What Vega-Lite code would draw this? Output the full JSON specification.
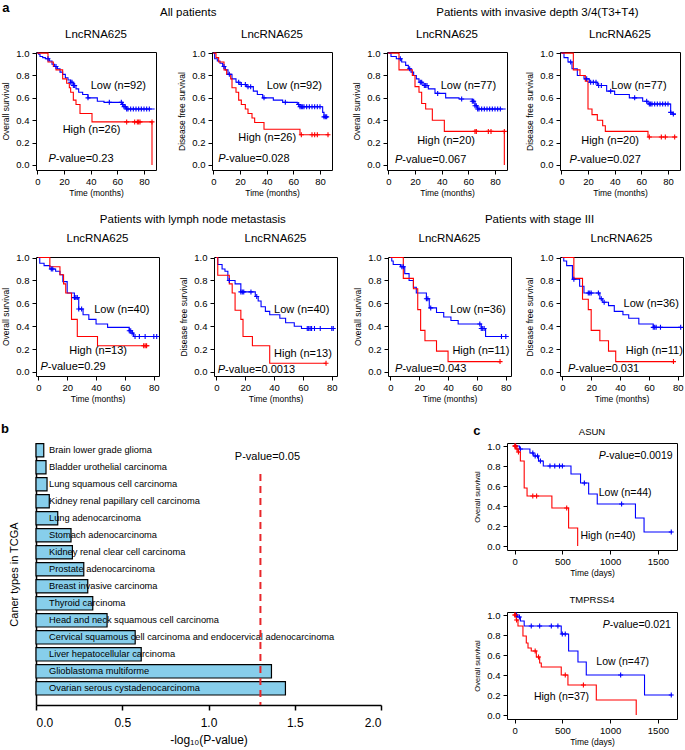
{
"$schema":"https://vega.github.io/schema/vega-lite/v6.json",
"padding":{"left":1,"top":1,"right":1,"bottom":1},
"config":{
 "font":"Liberation Sans",
 "view":{"stroke":"black","strokeWidth":1},
 "range":{"category":["#ff0000","#0000ff"]},
 "axis":{"grid":false,"domain":false,"tickColor":"black","labelColor":"black","titleColor":"black","titleFontWeight":"normal","tickSize":4,"labelFontSize":9.5,"titleFontSize":8.5},
 "axisX":{"labelPadding":2,"titlePadding":3},
 "axisY":{"labelPadding":3,"titlePadding":5},
 "title":{"fontWeight":"normal","fontSize":11.5,"color":"black","frame":"group","offset":8,"anchor":"middle"},
 "legend":{"disable":true}
},
"datasets":{
"km":[
{"p":"A1","g":"Low","t":0,"s":1,"c":0},{"p":"A1","g":"Low","t":1,"s":0.99,"c":0},{"p":"A1","g":"Low","t":2,"s":0.97,"c":0},{"p":"A1","g":"Low","t":4,"s":0.96,"c":0},{"p":"A1","g":"Low","t":6,"s":0.95,"c":0},{"p":"A1","g":"Low","t":9,"s":0.93,"c":0},{"p":"A1","g":"Low","t":11,"s":0.9,"c":0},{"p":"A1","g":"Low","t":13,"s":0.88,"c":0},{"p":"A1","g":"Low","t":15,"s":0.86,"c":0},{"p":"A1","g":"Low","t":17,"s":0.83,"c":0},{"p":"A1","g":"Low","t":19,"s":0.81,"c":0},{"p":"A1","g":"Low","t":21,"s":0.78,"c":0},{"p":"A1","g":"Low","t":23,"s":0.76,"c":0},{"p":"A1","g":"Low","t":25,"s":0.74,"c":0},{"p":"A1","g":"Low","t":27,"s":0.71,"c":0},{"p":"A1","g":"Low","t":29,"s":0.68,"c":0},{"p":"A1","g":"Low","t":31,"s":0.65,"c":0},{"p":"A1","g":"Low","t":34,"s":0.63,"c":0},{"p":"A1","g":"Low","t":38,"s":0.6,"c":0},{"p":"A1","g":"Low","t":45,"s":0.57,"c":0},{"p":"A1","g":"Low","t":50,"s":0.56,"c":0},{"p":"A1","g":"Low","t":64,"s":0.54,"c":0},{"p":"A1","g":"Low","t":65,"s":0.52,"c":0},{"p":"A1","g":"Low","t":67,"s":0.5,"c":0},{"p":"A1","g":"Low","t":88,"s":0.5,"c":0},
{"p":"A1","g":"Low","t":8,"s":0.95,"c":1},{"p":"A1","g":"Low","t":14,"s":0.88,"c":1},{"p":"A1","g":"Low","t":25,"s":0.74,"c":1},{"p":"A1","g":"Low","t":26,"s":0.74,"c":1},{"p":"A1","g":"Low","t":27,"s":0.71,"c":1},{"p":"A1","g":"Low","t":28,"s":0.71,"c":1},{"p":"A1","g":"Low","t":38,"s":0.6,"c":1},{"p":"A1","g":"Low","t":54,"s":0.56,"c":1},{"p":"A1","g":"Low","t":63,"s":0.56,"c":1},{"p":"A1","g":"Low","t":64,"s":0.54,"c":1},{"p":"A1","g":"Low","t":65,"s":0.52,"c":1},{"p":"A1","g":"Low","t":66,"s":0.52,"c":1},{"p":"A1","g":"Low","t":67,"s":0.5,"c":1},{"p":"A1","g":"Low","t":68,"s":0.5,"c":1},{"p":"A1","g":"Low","t":70,"s":0.5,"c":1},{"p":"A1","g":"Low","t":72,"s":0.5,"c":1},{"p":"A1","g":"Low","t":74,"s":0.5,"c":1},{"p":"A1","g":"Low","t":76,"s":0.5,"c":1},{"p":"A1","g":"Low","t":78,"s":0.5,"c":1},{"p":"A1","g":"Low","t":80,"s":0.5,"c":1},{"p":"A1","g":"Low","t":82,"s":0.5,"c":1},{"p":"A1","g":"Low","t":84,"s":0.5,"c":1},
{"p":"A1","g":"High","t":0,"s":1,"c":0},{"p":"A1","g":"High","t":8,"s":0.92,"c":0},{"p":"A1","g":"High","t":12,"s":0.88,"c":0},{"p":"A1","g":"High","t":14,"s":0.85,"c":0},{"p":"A1","g":"High","t":19,"s":0.77,"c":0},{"p":"A1","g":"High","t":22,"s":0.73,"c":0},{"p":"A1","g":"High","t":24,"s":0.69,"c":0},{"p":"A1","g":"High","t":25,"s":0.65,"c":0},{"p":"A1","g":"High","t":27,"s":0.58,"c":0},{"p":"A1","g":"High","t":29,"s":0.54,"c":0},{"p":"A1","g":"High","t":32,"s":0.46,"c":0},{"p":"A1","g":"High","t":41,"s":0.385,"c":0},{"p":"A1","g":"High","t":86,"s":0,"c":0},
{"p":"A1","g":"High","t":67,"s":0.385,"c":1},{"p":"A1","g":"High","t":73,"s":0.385,"c":1},{"p":"A1","g":"High","t":75,"s":0.385,"c":1},{"p":"A1","g":"High","t":76,"s":0.385,"c":1},{"p":"A1","g":"High","t":77,"s":0.385,"c":1},{"p":"A1","g":"High","t":86,"s":0.385,"c":1},

{"p":"A2","g":"Low","t":0,"s":1,"c":0},{"p":"A2","g":"Low","t":1,"s":0.95,"c":0},{"p":"A2","g":"Low","t":3,"s":0.93,"c":0},{"p":"A2","g":"Low","t":5,"s":0.91,"c":0},{"p":"A2","g":"Low","t":7,"s":0.88,"c":0},{"p":"A2","g":"Low","t":9,"s":0.85,"c":0},{"p":"A2","g":"Low","t":11,"s":0.81,"c":0},{"p":"A2","g":"Low","t":14,"s":0.77,"c":0},{"p":"A2","g":"Low","t":17,"s":0.74,"c":0},{"p":"A2","g":"Low","t":20,"s":0.72,"c":0},{"p":"A2","g":"Low","t":25,"s":0.7,"c":0},{"p":"A2","g":"Low","t":30,"s":0.66,"c":0},{"p":"A2","g":"Low","t":33,"s":0.63,"c":0},{"p":"A2","g":"Low","t":37,"s":0.6,"c":0},{"p":"A2","g":"Low","t":45,"s":0.58,"c":0},{"p":"A2","g":"Low","t":52,"s":0.56,"c":0},{"p":"A2","g":"Low","t":63,"s":0.54,"c":0},{"p":"A2","g":"Low","t":65,"s":0.52,"c":0},{"p":"A2","g":"Low","t":82,"s":0.47,"c":0},{"p":"A2","g":"Low","t":83,"s":0.43,"c":0},{"p":"A2","g":"Low","t":86,"s":0.43,"c":0},
{"p":"A2","g":"Low","t":8,"s":0.88,"c":1},{"p":"A2","g":"Low","t":12,"s":0.81,"c":1},{"p":"A2","g":"Low","t":19,"s":0.74,"c":1},{"p":"A2","g":"Low","t":21,"s":0.72,"c":1},{"p":"A2","g":"Low","t":24,"s":0.72,"c":1},{"p":"A2","g":"Low","t":26,"s":0.7,"c":1},{"p":"A2","g":"Low","t":28,"s":0.7,"c":1},{"p":"A2","g":"Low","t":38,"s":0.6,"c":1},{"p":"A2","g":"Low","t":54,"s":0.56,"c":1},{"p":"A2","g":"Low","t":64,"s":0.54,"c":1},{"p":"A2","g":"Low","t":65,"s":0.52,"c":1},{"p":"A2","g":"Low","t":66,"s":0.52,"c":1},{"p":"A2","g":"Low","t":67,"s":0.52,"c":1},{"p":"A2","g":"Low","t":68,"s":0.52,"c":1},{"p":"A2","g":"Low","t":70,"s":0.52,"c":1},{"p":"A2","g":"Low","t":72,"s":0.52,"c":1},{"p":"A2","g":"Low","t":74,"s":0.52,"c":1},{"p":"A2","g":"Low","t":76,"s":0.52,"c":1},{"p":"A2","g":"Low","t":78,"s":0.52,"c":1},{"p":"A2","g":"Low","t":80,"s":0.52,"c":1},{"p":"A2","g":"Low","t":83,"s":0.43,"c":1},{"p":"A2","g":"Low","t":84,"s":0.43,"c":1},{"p":"A2","g":"Low","t":85,"s":0.43,"c":1},
{"p":"A2","g":"High","t":0,"s":1,"c":0},{"p":"A2","g":"High","t":2,"s":0.96,"c":0},{"p":"A2","g":"High","t":4,"s":0.92,"c":0},{"p":"A2","g":"High","t":8,"s":0.85,"c":0},{"p":"A2","g":"High","t":10,"s":0.81,"c":0},{"p":"A2","g":"High","t":13,"s":0.77,"c":0},{"p":"A2","g":"High","t":14,"s":0.69,"c":0},{"p":"A2","g":"High","t":17,"s":0.65,"c":0},{"p":"A2","g":"High","t":19,"s":0.58,"c":0},{"p":"A2","g":"High","t":21,"s":0.54,"c":0},{"p":"A2","g":"High","t":24,"s":0.5,"c":0},{"p":"A2","g":"High","t":26,"s":0.46,"c":0},{"p":"A2","g":"High","t":29,"s":0.42,"c":0},{"p":"A2","g":"High","t":31,"s":0.38,"c":0},{"p":"A2","g":"High","t":38,"s":0.32,"c":0},{"p":"A2","g":"High","t":65,"s":0.27,"c":0},{"p":"A2","g":"High","t":87,"s":0.27,"c":0},
{"p":"A2","g":"High","t":66,"s":0.27,"c":1},{"p":"A2","g":"High","t":74,"s":0.27,"c":1},{"p":"A2","g":"High","t":76,"s":0.27,"c":1},{"p":"A2","g":"High","t":78,"s":0.27,"c":1},{"p":"A2","g":"High","t":86,"s":0.27,"c":1},

{"p":"A3","g":"Low","t":0,"s":1,"c":0},{"p":"A3","g":"Low","t":2,"s":0.97,"c":0},{"p":"A3","g":"Low","t":6,"s":0.95,"c":0},{"p":"A3","g":"Low","t":10,"s":0.92,"c":0},{"p":"A3","g":"Low","t":13,"s":0.89,"c":0},{"p":"A3","g":"Low","t":15,"s":0.86,"c":0},{"p":"A3","g":"Low","t":17,"s":0.83,"c":0},{"p":"A3","g":"Low","t":19,"s":0.8,"c":0},{"p":"A3","g":"Low","t":21,"s":0.77,"c":0},{"p":"A3","g":"Low","t":23,"s":0.74,"c":0},{"p":"A3","g":"Low","t":26,"s":0.71,"c":0},{"p":"A3","g":"Low","t":30,"s":0.68,"c":0},{"p":"A3","g":"Low","t":35,"s":0.64,"c":0},{"p":"A3","g":"Low","t":43,"s":0.6,"c":0},{"p":"A3","g":"Low","t":53,"s":0.59,"c":0},{"p":"A3","g":"Low","t":63,"s":0.57,"c":0},{"p":"A3","g":"Low","t":65,"s":0.53,"c":0},{"p":"A3","g":"Low","t":67,"s":0.5,"c":0},{"p":"A3","g":"Low","t":88,"s":0.5,"c":0},
{"p":"A3","g":"Low","t":9,"s":0.95,"c":1},{"p":"A3","g":"Low","t":16,"s":0.86,"c":1},{"p":"A3","g":"Low","t":24,"s":0.74,"c":1},{"p":"A3","g":"Low","t":25,"s":0.74,"c":1},{"p":"A3","g":"Low","t":27,"s":0.71,"c":1},{"p":"A3","g":"Low","t":28,"s":0.71,"c":1},{"p":"A3","g":"Low","t":29,"s":0.71,"c":1},{"p":"A3","g":"Low","t":37,"s":0.64,"c":1},{"p":"A3","g":"Low","t":55,"s":0.59,"c":1},{"p":"A3","g":"Low","t":63,"s":0.57,"c":1},{"p":"A3","g":"Low","t":64,"s":0.57,"c":1},{"p":"A3","g":"Low","t":65,"s":0.53,"c":1},{"p":"A3","g":"Low","t":66,"s":0.53,"c":1},{"p":"A3","g":"Low","t":67,"s":0.5,"c":1},{"p":"A3","g":"Low","t":68,"s":0.5,"c":1},{"p":"A3","g":"Low","t":70,"s":0.5,"c":1},{"p":"A3","g":"Low","t":72,"s":0.5,"c":1},{"p":"A3","g":"Low","t":74,"s":0.5,"c":1},{"p":"A3","g":"Low","t":76,"s":0.5,"c":1},{"p":"A3","g":"Low","t":78,"s":0.5,"c":1},{"p":"A3","g":"Low","t":80,"s":0.5,"c":1},{"p":"A3","g":"Low","t":82,"s":0.5,"c":1},{"p":"A3","g":"Low","t":84,"s":0.5,"c":1},
{"p":"A3","g":"High","t":0,"s":1,"c":0},{"p":"A3","g":"High","t":8,"s":0.85,"c":0},{"p":"A3","g":"High","t":18,"s":0.8,"c":0},{"p":"A3","g":"High","t":20,"s":0.7,"c":0},{"p":"A3","g":"High","t":23,"s":0.65,"c":0},{"p":"A3","g":"High","t":25,"s":0.55,"c":0},{"p":"A3","g":"High","t":28,"s":0.5,"c":0},{"p":"A3","g":"High","t":33,"s":0.4,"c":0},{"p":"A3","g":"High","t":42,"s":0.3,"c":0},{"p":"A3","g":"High","t":87,"s":0,"c":0},
{"p":"A3","g":"High","t":65,"s":0.3,"c":1},{"p":"A3","g":"High","t":66,"s":0.3,"c":1},{"p":"A3","g":"High","t":75,"s":0.3,"c":1},{"p":"A3","g":"High","t":77,"s":0.3,"c":1},{"p":"A3","g":"High","t":87,"s":0.3,"c":1},

{"p":"A4","g":"Low","t":0,"s":1,"c":0},{"p":"A4","g":"Low","t":2,"s":0.96,"c":0},{"p":"A4","g":"Low","t":5,"s":0.92,"c":0},{"p":"A4","g":"Low","t":8,"s":0.86,"c":0},{"p":"A4","g":"Low","t":12,"s":0.8,"c":0},{"p":"A4","g":"Low","t":17,"s":0.77,"c":0},{"p":"A4","g":"Low","t":21,"s":0.74,"c":0},{"p":"A4","g":"Low","t":27,"s":0.71,"c":0},{"p":"A4","g":"Low","t":34,"s":0.66,"c":0},{"p":"A4","g":"Low","t":40,"s":0.63,"c":0},{"p":"A4","g":"Low","t":51,"s":0.6,"c":0},{"p":"A4","g":"Low","t":61,"s":0.57,"c":0},{"p":"A4","g":"Low","t":65,"s":0.545,"c":0},{"p":"A4","g":"Low","t":82,"s":0.47,"c":0},{"p":"A4","g":"Low","t":83,"s":0.455,"c":0},{"p":"A4","g":"Low","t":86,"s":0.455,"c":0},
{"p":"A4","g":"Low","t":7,"s":0.92,"c":1},{"p":"A4","g":"Low","t":19,"s":0.77,"c":1},{"p":"A4","g":"Low","t":22,"s":0.74,"c":1},{"p":"A4","g":"Low","t":24,"s":0.74,"c":1},{"p":"A4","g":"Low","t":26,"s":0.74,"c":1},{"p":"A4","g":"Low","t":28,"s":0.71,"c":1},{"p":"A4","g":"Low","t":30,"s":0.71,"c":1},{"p":"A4","g":"Low","t":37,"s":0.66,"c":1},{"p":"A4","g":"Low","t":55,"s":0.6,"c":1},{"p":"A4","g":"Low","t":64,"s":0.57,"c":1},{"p":"A4","g":"Low","t":66,"s":0.545,"c":1},{"p":"A4","g":"Low","t":67,"s":0.545,"c":1},{"p":"A4","g":"Low","t":68,"s":0.545,"c":1},{"p":"A4","g":"Low","t":70,"s":0.545,"c":1},{"p":"A4","g":"Low","t":72,"s":0.545,"c":1},{"p":"A4","g":"Low","t":74,"s":0.545,"c":1},{"p":"A4","g":"Low","t":76,"s":0.545,"c":1},{"p":"A4","g":"Low","t":78,"s":0.545,"c":1},{"p":"A4","g":"Low","t":80,"s":0.545,"c":1},{"p":"A4","g":"Low","t":82,"s":0.47,"c":1},{"p":"A4","g":"Low","t":84,"s":0.455,"c":1},
{"p":"A4","g":"High","t":0,"s":1,"c":0},{"p":"A4","g":"High","t":9,"s":0.85,"c":0},{"p":"A4","g":"High","t":14,"s":0.8,"c":0},{"p":"A4","g":"High","t":18,"s":0.75,"c":0},{"p":"A4","g":"High","t":20,"s":0.5,"c":0},{"p":"A4","g":"High","t":23,"s":0.45,"c":0},{"p":"A4","g":"High","t":27,"s":0.4,"c":0},{"p":"A4","g":"High","t":31,"s":0.35,"c":0},{"p":"A4","g":"High","t":33,"s":0.3,"c":0},{"p":"A4","g":"High","t":65,"s":0.25,"c":0},{"p":"A4","g":"High","t":87,"s":0.25,"c":0},
{"p":"A4","g":"High","t":66,"s":0.25,"c":1},{"p":"A4","g":"High","t":75,"s":0.25,"c":1},{"p":"A4","g":"High","t":78,"s":0.25,"c":1},{"p":"A4","g":"High","t":85,"s":0.25,"c":1},

{"p":"B1","g":"Low","t":0,"s":1,"c":0},{"p":"B1","g":"Low","t":1,"s":0.95,"c":0},{"p":"B1","g":"Low","t":4,"s":0.93,"c":0},{"p":"B1","g":"Low","t":8,"s":0.9,"c":0},{"p":"B1","g":"Low","t":12,"s":0.88,"c":0},{"p":"B1","g":"Low","t":15,"s":0.85,"c":0},{"p":"B1","g":"Low","t":17,"s":0.79,"c":0},{"p":"B1","g":"Low","t":20,"s":0.69,"c":0},{"p":"B1","g":"Low","t":25,"s":0.65,"c":0},{"p":"B1","g":"Low","t":28,"s":0.55,"c":0},{"p":"B1","g":"Low","t":31,"s":0.5,"c":0},{"p":"B1","g":"Low","t":35,"s":0.46,"c":0},{"p":"B1","g":"Low","t":40,"s":0.42,"c":0},{"p":"B1","g":"Low","t":48,"s":0.39,"c":0},{"p":"B1","g":"Low","t":63,"s":0.36,"c":0},{"p":"B1","g":"Low","t":65,"s":0.34,"c":0},{"p":"B1","g":"Low","t":66,"s":0.31,"c":0},{"p":"B1","g":"Low","t":83,"s":0.31,"c":0},
{"p":"B1","g":"Low","t":9,"s":0.9,"c":1},{"p":"B1","g":"Low","t":10,"s":0.9,"c":1},{"p":"B1","g":"Low","t":25,"s":0.65,"c":1},{"p":"B1","g":"Low","t":26,"s":0.65,"c":1},{"p":"B1","g":"Low","t":27,"s":0.65,"c":1},{"p":"B1","g":"Low","t":28,"s":0.55,"c":1},{"p":"B1","g":"Low","t":30,"s":0.55,"c":1},{"p":"B1","g":"Low","t":63,"s":0.36,"c":1},{"p":"B1","g":"Low","t":64,"s":0.36,"c":1},{"p":"B1","g":"Low","t":65,"s":0.34,"c":1},{"p":"B1","g":"Low","t":67,"s":0.31,"c":1},{"p":"B1","g":"Low","t":70,"s":0.31,"c":1},{"p":"B1","g":"Low","t":74,"s":0.31,"c":1},{"p":"B1","g":"Low","t":80,"s":0.31,"c":1},{"p":"B1","g":"Low","t":82,"s":0.31,"c":1},
{"p":"B1","g":"High","t":0,"s":1,"c":0},{"p":"B1","g":"High","t":8,"s":0.92,"c":0},{"p":"B1","g":"High","t":15,"s":0.85,"c":0},{"p":"B1","g":"High","t":17.5,"s":0.77,"c":0},{"p":"B1","g":"High","t":19,"s":0.69,"c":0},{"p":"B1","g":"High","t":23,"s":0.46,"c":0},{"p":"B1","g":"High","t":27,"s":0.31,"c":0},{"p":"B1","g":"High","t":41,"s":0.23,"c":0},{"p":"B1","g":"High","t":77,"s":0.23,"c":0},
{"p":"B1","g":"High","t":73,"s":0.23,"c":1},{"p":"B1","g":"High","t":74,"s":0.23,"c":1},{"p":"B1","g":"High","t":75,"s":0.23,"c":1},

{"p":"B2","g":"Low","t":0,"s":1,"c":0},{"p":"B2","g":"Low","t":1,"s":0.94,"c":0},{"p":"B2","g":"Low","t":4,"s":0.9,"c":0},{"p":"B2","g":"Low","t":6,"s":0.88,"c":0},{"p":"B2","g":"Low","t":8,"s":0.8,"c":0},{"p":"B2","g":"Low","t":13,"s":0.77,"c":0},{"p":"B2","g":"Low","t":17,"s":0.7,"c":0},{"p":"B2","g":"Low","t":27,"s":0.66,"c":0},{"p":"B2","g":"Low","t":29,"s":0.62,"c":0},{"p":"B2","g":"Low","t":31,"s":0.57,"c":0},{"p":"B2","g":"Low","t":34,"s":0.53,"c":0},{"p":"B2","g":"Low","t":37,"s":0.5,"c":0},{"p":"B2","g":"Low","t":44,"s":0.47,"c":0},{"p":"B2","g":"Low","t":48,"s":0.43,"c":0},{"p":"B2","g":"Low","t":54,"s":0.4,"c":0},{"p":"B2","g":"Low","t":59,"s":0.38,"c":0},{"p":"B2","g":"Low","t":82,"s":0.38,"c":0},
{"p":"B2","g":"Low","t":9,"s":0.8,"c":1},{"p":"B2","g":"Low","t":17,"s":0.7,"c":1},{"p":"B2","g":"Low","t":18,"s":0.7,"c":1},{"p":"B2","g":"Low","t":19,"s":0.7,"c":1},{"p":"B2","g":"Low","t":24,"s":0.7,"c":1},{"p":"B2","g":"Low","t":28,"s":0.66,"c":1},{"p":"B2","g":"Low","t":63,"s":0.38,"c":1},{"p":"B2","g":"Low","t":64,"s":0.38,"c":1},{"p":"B2","g":"Low","t":65,"s":0.38,"c":1},{"p":"B2","g":"Low","t":66,"s":0.38,"c":1},{"p":"B2","g":"Low","t":68,"s":0.38,"c":1},{"p":"B2","g":"Low","t":72,"s":0.38,"c":1},{"p":"B2","g":"Low","t":80,"s":0.38,"c":1},{"p":"B2","g":"Low","t":81,"s":0.38,"c":1},
{"p":"B2","g":"High","t":0,"s":1,"c":0},{"p":"B2","g":"High","t":1,"s":0.846,"c":0},{"p":"B2","g":"High","t":9,"s":0.77,"c":0},{"p":"B2","g":"High","t":11,"s":0.69,"c":0},{"p":"B2","g":"High","t":13,"s":0.54,"c":0},{"p":"B2","g":"High","t":17,"s":0.46,"c":0},{"p":"B2","g":"High","t":18.5,"s":0.31,"c":0},{"p":"B2","g":"High","t":25,"s":0.23,"c":0},{"p":"B2","g":"High","t":37,"s":0.077,"c":0},{"p":"B2","g":"High","t":76,"s":0.077,"c":0},
{"p":"B2","g":"High","t":76,"s":0.077,"c":1},

{"p":"B3","g":"Low","t":0,"s":1,"c":0},{"p":"B3","g":"Low","t":1,"s":0.97,"c":0},{"p":"B3","g":"Low","t":2,"s":0.94,"c":0},{"p":"B3","g":"Low","t":7,"s":0.92,"c":0},{"p":"B3","g":"Low","t":10,"s":0.86,"c":0},{"p":"B3","g":"Low","t":13,"s":0.8,"c":0},{"p":"B3","g":"Low","t":16,"s":0.74,"c":0},{"p":"B3","g":"Low","t":18,"s":0.69,"c":0},{"p":"B3","g":"Low","t":25,"s":0.64,"c":0},{"p":"B3","g":"Low","t":27,"s":0.56,"c":0},{"p":"B3","g":"Low","t":32,"s":0.52,"c":0},{"p":"B3","g":"Low","t":37,"s":0.48,"c":0},{"p":"B3","g":"Low","t":42,"s":0.45,"c":0},{"p":"B3","g":"Low","t":47,"s":0.42,"c":0},{"p":"B3","g":"Low","t":63,"s":0.38,"c":0},{"p":"B3","g":"Low","t":66,"s":0.31,"c":0},{"p":"B3","g":"Low","t":82,"s":0.31,"c":0},
{"p":"B3","g":"Low","t":8,"s":0.92,"c":1},{"p":"B3","g":"Low","t":9,"s":0.92,"c":1},{"p":"B3","g":"Low","t":25,"s":0.64,"c":1},{"p":"B3","g":"Low","t":26,"s":0.64,"c":1},{"p":"B3","g":"Low","t":28,"s":0.56,"c":1},{"p":"B3","g":"Low","t":62,"s":0.42,"c":1},{"p":"B3","g":"Low","t":63,"s":0.38,"c":1},{"p":"B3","g":"Low","t":64,"s":0.38,"c":1},{"p":"B3","g":"Low","t":65,"s":0.38,"c":1},{"p":"B3","g":"Low","t":77,"s":0.31,"c":1},{"p":"B3","g":"Low","t":80,"s":0.31,"c":1},
{"p":"B3","g":"High","t":0,"s":1,"c":0},{"p":"B3","g":"High","t":9,"s":0.818,"c":0},{"p":"B3","g":"High","t":16,"s":0.727,"c":0},{"p":"B3","g":"High","t":19,"s":0.545,"c":0},{"p":"B3","g":"High","t":21,"s":0.364,"c":0},{"p":"B3","g":"High","t":24,"s":0.273,"c":0},{"p":"B3","g":"High","t":32,"s":0.182,"c":0},{"p":"B3","g":"High","t":40,"s":0.091,"c":0},{"p":"B3","g":"High","t":76,"s":0.091,"c":0},
{"p":"B3","g":"High","t":76,"s":0.091,"c":1},

{"p":"B4","g":"Low","t":0,"s":1,"c":0},{"p":"B4","g":"Low","t":1,"s":0.97,"c":0},{"p":"B4","g":"Low","t":3,"s":0.93,"c":0},{"p":"B4","g":"Low","t":7,"s":0.81,"c":0},{"p":"B4","g":"Low","t":12,"s":0.75,"c":0},{"p":"B4","g":"Low","t":15,"s":0.69,"c":0},{"p":"B4","g":"Low","t":26,"s":0.64,"c":0},{"p":"B4","g":"Low","t":28,"s":0.61,"c":0},{"p":"B4","g":"Low","t":32,"s":0.58,"c":0},{"p":"B4","g":"Low","t":36,"s":0.53,"c":0},{"p":"B4","g":"Low","t":42,"s":0.5,"c":0},{"p":"B4","g":"Low","t":46,"s":0.47,"c":0},{"p":"B4","g":"Low","t":53,"s":0.42,"c":0},{"p":"B4","g":"Low","t":63,"s":0.39,"c":0},{"p":"B4","g":"Low","t":82,"s":0.39,"c":0},
{"p":"B4","g":"Low","t":8,"s":0.81,"c":1},{"p":"B4","g":"Low","t":18,"s":0.69,"c":1},{"p":"B4","g":"Low","t":19,"s":0.69,"c":1},{"p":"B4","g":"Low","t":20,"s":0.69,"c":1},{"p":"B4","g":"Low","t":25,"s":0.69,"c":1},{"p":"B4","g":"Low","t":27,"s":0.64,"c":1},{"p":"B4","g":"Low","t":29,"s":0.61,"c":1},{"p":"B4","g":"Low","t":63,"s":0.39,"c":1},{"p":"B4","g":"Low","t":64,"s":0.39,"c":1},{"p":"B4","g":"Low","t":65,"s":0.39,"c":1},{"p":"B4","g":"Low","t":68,"s":0.39,"c":1},{"p":"B4","g":"Low","t":82,"s":0.39,"c":1},
{"p":"B4","g":"High","t":0,"s":1,"c":0},{"p":"B4","g":"High","t":8,"s":0.818,"c":0},{"p":"B4","g":"High","t":14,"s":0.636,"c":0},{"p":"B4","g":"High","t":18,"s":0.545,"c":0},{"p":"B4","g":"High","t":20,"s":0.364,"c":0},{"p":"B4","g":"High","t":26,"s":0.273,"c":0},{"p":"B4","g":"High","t":32,"s":0.182,"c":0},{"p":"B4","g":"High","t":37,"s":0.091,"c":0},{"p":"B4","g":"High","t":77,"s":0.091,"c":0},
{"p":"B4","g":"High","t":77,"s":0.091,"c":1},

{"p":"C1","g":"Low","t":0,"s":1,"c":0},{"p":"C1","g":"Low","t":50,"s":0.97,"c":0},{"p":"C1","g":"Low","t":160,"s":0.93,"c":0},{"p":"C1","g":"Low","t":200,"s":0.9,"c":0},{"p":"C1","g":"Low","t":250,"s":0.85,"c":0},{"p":"C1","g":"Low","t":300,"s":0.8,"c":0},{"p":"C1","g":"Low","t":590,"s":0.72,"c":0},{"p":"C1","g":"Low","t":690,"s":0.63,"c":0},{"p":"C1","g":"Low","t":775,"s":0.52,"c":0},{"p":"C1","g":"Low","t":865,"s":0.42,"c":0},{"p":"C1","g":"Low","t":1265,"s":0.28,"c":0},{"p":"C1","g":"Low","t":1355,"s":0.14,"c":0},{"p":"C1","g":"Low","t":1650,"s":0.14,"c":0},
{"p":"C1","g":"Low","t":10,"s":1,"c":1},{"p":"C1","g":"Low","t":60,"s":0.97,"c":1},{"p":"C1","g":"Low","t":190,"s":0.93,"c":1},{"p":"C1","g":"Low","t":215,"s":0.9,"c":1},{"p":"C1","g":"Low","t":240,"s":0.9,"c":1},{"p":"C1","g":"Low","t":270,"s":0.85,"c":1},{"p":"C1","g":"Low","t":370,"s":0.8,"c":1},{"p":"C1","g":"Low","t":420,"s":0.8,"c":1},{"p":"C1","g":"Low","t":470,"s":0.8,"c":1},{"p":"C1","g":"Low","t":500,"s":0.8,"c":1},{"p":"C1","g":"Low","t":730,"s":0.63,"c":1},{"p":"C1","g":"Low","t":1120,"s":0.42,"c":1},{"p":"C1","g":"Low","t":1640,"s":0.14,"c":1},
{"p":"C1","g":"High","t":0,"s":1,"c":0},{"p":"C1","g":"High","t":15,"s":0.97,"c":0},{"p":"C1","g":"High","t":35,"s":0.94,"c":0},{"p":"C1","g":"High","t":60,"s":0.85,"c":0},{"p":"C1","g":"High","t":100,"s":0.58,"c":0},{"p":"C1","g":"High","t":130,"s":0.5,"c":0},{"p":"C1","g":"High","t":390,"s":0.38,"c":0},{"p":"C1","g":"High","t":565,"s":0.18,"c":0},{"p":"C1","g":"High","t":660,"s":0,"c":0},
{"p":"C1","g":"High","t":2,"s":1,"c":1},{"p":"C1","g":"High","t":6,"s":1,"c":1},{"p":"C1","g":"High","t":10,"s":1,"c":1},{"p":"C1","g":"High","t":25,"s":0.97,"c":1},{"p":"C1","g":"High","t":40,"s":0.94,"c":1},{"p":"C1","g":"High","t":190,"s":0.5,"c":1},{"p":"C1","g":"High","t":230,"s":0.5,"c":1},{"p":"C1","g":"High","t":545,"s":0.38,"c":1},

{"p":"C2","g":"Low","t":0,"s":1,"c":0},{"p":"C2","g":"Low","t":30,"s":0.98,"c":0},{"p":"C2","g":"Low","t":60,"s":0.94,"c":0},{"p":"C2","g":"Low","t":100,"s":0.89,"c":0},{"p":"C2","g":"Low","t":488,"s":0.81,"c":0},{"p":"C2","g":"Low","t":565,"s":0.64,"c":0},{"p":"C2","g":"Low","t":663,"s":0.53,"c":0},{"p":"C2","g":"Low","t":750,"s":0.4,"c":0},{"p":"C2","g":"Low","t":1360,"s":0.2,"c":0},{"p":"C2","g":"Low","t":1650,"s":0.2,"c":0},
{"p":"C2","g":"Low","t":20,"s":1,"c":1},{"p":"C2","g":"Low","t":50,"s":0.98,"c":1},{"p":"C2","g":"Low","t":174,"s":0.89,"c":1},{"p":"C2","g":"Low","t":262,"s":0.89,"c":1},{"p":"C2","g":"Low","t":384,"s":0.89,"c":1},{"p":"C2","g":"Low","t":453,"s":0.89,"c":1},{"p":"C2","g":"Low","t":499,"s":0.81,"c":1},{"p":"C2","g":"Low","t":530,"s":0.81,"c":1},{"p":"C2","g":"Low","t":1110,"s":0.4,"c":1},{"p":"C2","g":"Low","t":1640,"s":0.2,"c":1},
{"p":"C2","g":"High","t":0,"s":1,"c":0},{"p":"C2","g":"High","t":17,"s":0.95,"c":0},{"p":"C2","g":"High","t":35,"s":0.89,"c":0},{"p":"C2","g":"High","t":87,"s":0.79,"c":0},{"p":"C2","g":"High","t":122,"s":0.72,"c":0},{"p":"C2","g":"High","t":140,"s":0.67,"c":0},{"p":"C2","g":"High","t":174,"s":0.64,"c":0},{"p":"C2","g":"High","t":227,"s":0.58,"c":0},{"p":"C2","g":"High","t":262,"s":0.52,"c":0},{"p":"C2","g":"High","t":279,"s":0.48,"c":0},{"p":"C2","g":"High","t":488,"s":0.4,"c":0},{"p":"C2","g":"High","t":558,"s":0.3,"c":0},{"p":"C2","g":"High","t":855,"s":0.15,"c":0},{"p":"C2","g":"High","t":1273,"s":0,"c":0},
{"p":"C2","g":"High","t":0,"s":1,"c":1},{"p":"C2","g":"High","t":10,"s":1,"c":1},{"p":"C2","g":"High","t":20,"s":0.95,"c":1},{"p":"C2","g":"High","t":215,"s":0.64,"c":1},{"p":"C2","g":"High","t":250,"s":0.58,"c":1},{"p":"C2","g":"High","t":530,"s":0.4,"c":1},{"p":"C2","g":"High","t":720,"s":0.3,"c":1}
],
"ann":[
{"p":"A1","t":40,"s":0.71,"label":"Low (n=92)"},{"p":"A1","t":19,"s":0.31,"label":"High (n=26)"},{"p":"A1","t":13.8,"s":0.05,"label":"-value=0.23","k":"pv"},
{"p":"A2","t":40,"s":0.71,"label":"Low (n=92)"},{"p":"A2","t":18.7,"s":0.243,"label":"High (n=26)"},{"p":"A2","t":9.2,"s":0.05,"label":"-value=0.028","k":"pv"},
{"p":"A3","t":39.3,"s":0.705,"label":"Low (n=77)"},{"p":"A3","t":21.6,"s":0.216,"label":"High (n=20)"},{"p":"A3","t":10.5,"s":0.045,"label":"-value=0.067","k":"pv"},
{"p":"A4","t":37.4,"s":0.705,"label":"Low (n=77)"},{"p":"A4","t":14.9,"s":0.216,"label":"High (n=20)"},{"p":"A4","t":11.7,"s":0.045,"label":"-value=0.027","k":"pv"},
{"p":"B1","t":38.7,"s":0.54,"label":"Low (n=40)"},{"p":"B1","t":21.4,"s":0.18,"label":"High (n=13)"},{"p":"B1","t":6.6,"s":0.04,"label":"-value=0.29","k":"pv"},
{"p":"B2","t":40,"s":0.54,"label":"Low (n=40)"},{"p":"B2","t":40,"s":0.155,"label":"High (n=13)"},{"p":"B2","t":6.1,"s":0.018,"label":"-value=0.0013","k":"pv"},
{"p":"B3","t":41.6,"s":0.54,"label":"Low (n=36)"},{"p":"B3","t":43,"s":0.18,"label":"High (n=11)"},{"p":"B3","t":8.4,"s":0.03,"label":"-value=0.043","k":"pv"},
{"p":"B4","t":42.4,"s":0.59,"label":"Low (n=36)"},{"p":"B4","t":44,"s":0.18,"label":"High (n=11)"},{"p":"B4","t":9,"s":0.03,"label":"-value=0.031","k":"pv"},
{"p":"C1","t":954,"s":0.9,"label":"-value=0.0019","k":"pv"},{"p":"C1","t":881,"s":0.53,"label":"Low (n=44)"},{"p":"C1","t":689,"s":0.1,"label":"High (n=40)"},
{"p":"C2","t":997,"s":0.905,"label":"-value=0.021","k":"pv"},{"p":"C2","t":855,"s":0.53,"label":"Low (n=47)"},{"p":"C2","t":202,"s":0.18,"label":"High (n=37)"}
],
"bars":[
{"type":"Brain lower grade glioma","v":0.045},{"type":"Bladder urothelial carcinoma","v":0.058},{"type":"Lung squamous cell carcinoma","v":0.064},{"type":"Kidney renal papillary cell carcinoma","v":0.077},{"type":"Lung adenocarcinoma","v":0.126},{"type":"Stomach adenocarcinoma","v":0.203},{"type":"Kidney renal clear cell carcinoma","v":0.211},{"type":"Prostate adenocarcinoma","v":0.277},{"type":"Breast invasive carcinoma","v":0.3},{"type":"Thyroid carcinoma","v":0.329},{"type":"Head and neck squamous cell carcinoma","v":0.412},{"type":"Cervical squamous cell carcinoma and endocervical adenocarcinoma","v":0.575},{"type":"Liver hepatocellular carcinoma","v":0.61},{"type":"Glioblastoma multiforme","v":1.365},{"type":"Ovarian serous cystadenocarcinoma","v":1.446}
],
"thr":[{"thr":1.30103,"label":"P-value=0.05"}]
},
"spacing":19,
"vconcat":[
{"spacing":16,"vconcat":[
{"title":{"text":"a","anchor":"start","frame":"bounds","fontWeight":"bold","fontSize":13,"offset":-8,"dx":1},
 "spacing":18,
 "hconcat":[
 {"title":{"text":"All patients","frame":"bounds","offset":10,"dx":21},"spacing":19,"hconcat":[
  {"width":120,"height":118,"title":"LncRNA625","data":{"name":"km"},"encoding":{"x":{"field":"t","type":"quantitative","scale":{"domain":[-1,89],"nice":false,"zero":false},"axis":{"values":[0,20,40,60,80],"title":"Time (months)"}},"y":{"field":"s","type":"quantitative","scale":{"domain":[-0.045,1.01],"nice":false,"zero":false},"axis":{"values":[0,0.2,0.4,0.6,0.8,1],"format":".1f","title":"Overall survival"}}},"layer":[
   {"transform":[{"filter":"datum.p=='A1'&&datum.c==0"}],"mark":{"type":"line","interpolate":"step-after","strokeWidth":1.1},"encoding":{"color":{"field":"g","type":"nominal"}}},
   {"transform":[{"filter":"datum.p=='A1'&&datum.c==1"}],"mark":{"type":"point","shape":"M-1,0L1,0M0,-1L0,1","size":25,"strokeWidth":1.1,"filled":false,"opacity":1},"encoding":{"color":{"field":"g","type":"nominal"}}},
   {"data":{"name":"ann"},"transform":[{"filter":"datum.p=='A1'"}],"mark":{"type":"text","align":"left","baseline":"middle","fontSize":11},"encoding":{"text":{"field":"label"}}},
   {"data":{"name":"ann"},"transform":[{"filter":"datum.p=='A1'&&datum.k=='pv'"}],"mark":{"type":"text","align":"right","baseline":"middle","fontSize":11,"fontStyle":"italic","text":"P"}}]},
  {"width":120,"height":118,"title":"LncRNA625","data":{"name":"km"},"encoding":{"x":{"field":"t","type":"quantitative","scale":{"domain":[-1,89],"nice":false,"zero":false},"axis":{"values":[0,20,40,60,80],"title":"Time (months)"}},"y":{"field":"s","type":"quantitative","scale":{"domain":[-0.045,1.01],"nice":false,"zero":false},"axis":{"values":[0,0.2,0.4,0.6,0.8,1],"format":".1f","title":"Disease free survival"}}},"layer":[
   {"transform":[{"filter":"datum.p=='A2'&&datum.c==0"}],"mark":{"type":"line","interpolate":"step-after","strokeWidth":1.1},"encoding":{"color":{"field":"g","type":"nominal"}}},
   {"transform":[{"filter":"datum.p=='A2'&&datum.c==1"}],"mark":{"type":"point","shape":"M-1,0L1,0M0,-1L0,1","size":25,"strokeWidth":1.1,"filled":false,"opacity":1},"encoding":{"color":{"field":"g","type":"nominal"}}},
   {"data":{"name":"ann"},"transform":[{"filter":"datum.p=='A2'"}],"mark":{"type":"text","align":"left","baseline":"middle","fontSize":11},"encoding":{"text":{"field":"label"}}},
   {"data":{"name":"ann"},"transform":[{"filter":"datum.p=='A2'&&datum.k=='pv'"}],"mark":{"type":"text","align":"right","baseline":"middle","fontSize":11,"fontStyle":"italic","text":"P"}}]}
 ]},
 {"title":{"text":"Patients with invasive depth 3/4(T3+T4)","frame":"bounds","offset":10,"dx":21},"spacing":15,"hconcat":[
  {"width":120,"height":118,"title":"LncRNA625","data":{"name":"km"},"encoding":{"x":{"field":"t","type":"quantitative","scale":{"domain":[-1,89],"nice":false,"zero":false},"axis":{"values":[0,20,40,60,80],"title":"Time (months)"}},"y":{"field":"s","type":"quantitative","scale":{"domain":[-0.045,1.01],"nice":false,"zero":false},"axis":{"values":[0,0.2,0.4,0.6,0.8,1],"format":".1f","title":"Overall survival"}}},"layer":[
   {"transform":[{"filter":"datum.p=='A3'&&datum.c==0"}],"mark":{"type":"line","interpolate":"step-after","strokeWidth":1.1},"encoding":{"color":{"field":"g","type":"nominal"}}},
   {"transform":[{"filter":"datum.p=='A3'&&datum.c==1"}],"mark":{"type":"point","shape":"M-1,0L1,0M0,-1L0,1","size":25,"strokeWidth":1.1,"filled":false,"opacity":1},"encoding":{"color":{"field":"g","type":"nominal"}}},
   {"data":{"name":"ann"},"transform":[{"filter":"datum.p=='A3'"}],"mark":{"type":"text","align":"left","baseline":"middle","fontSize":11},"encoding":{"text":{"field":"label"}}},
   {"data":{"name":"ann"},"transform":[{"filter":"datum.p=='A3'&&datum.k=='pv'"}],"mark":{"type":"text","align":"right","baseline":"middle","fontSize":11,"fontStyle":"italic","text":"P"}}]},
  {"width":120,"height":118,"title":"LncRNA625","data":{"name":"km"},"encoding":{"x":{"field":"t","type":"quantitative","scale":{"domain":[-1,89],"nice":false,"zero":false},"axis":{"values":[0,20,40,60,80],"title":"Time (months)"}},"y":{"field":"s","type":"quantitative","scale":{"domain":[-0.045,1.01],"nice":false,"zero":false},"axis":{"values":[0,0.2,0.4,0.6,0.8,1],"format":".1f","title":"Disease free survival"}}},"layer":[
   {"transform":[{"filter":"datum.p=='A4'&&datum.c==0"}],"mark":{"type":"line","interpolate":"step-after","strokeWidth":1.1},"encoding":{"color":{"field":"g","type":"nominal"}}},
   {"transform":[{"filter":"datum.p=='A4'&&datum.c==1"}],"mark":{"type":"point","shape":"M-1,0L1,0M0,-1L0,1","size":25,"strokeWidth":1.1,"filled":false,"opacity":1},"encoding":{"color":{"field":"g","type":"nominal"}}},
   {"data":{"name":"ann"},"transform":[{"filter":"datum.p=='A4'"}],"mark":{"type":"text","align":"left","baseline":"middle","fontSize":11},"encoding":{"text":{"field":"label"}}},
   {"data":{"name":"ann"},"transform":[{"filter":"datum.p=='A4'&&datum.k=='pv'"}],"mark":{"type":"text","align":"right","baseline":"middle","fontSize":11,"fontStyle":"italic","text":"P"}}]}
 ]}
 ]},
{"spacing":14,
 "hconcat":[
 {"title":{"text":"Patients with lymph node metastasis","frame":"bounds","offset":7,"dx":23},"spacing":17,"hconcat":[
  {"width":123,"height":119,"title":"LncRNA625","data":{"name":"km"},"encoding":{"x":{"field":"t","type":"quantitative","scale":{"domain":[-1.6,83.6],"nice":false,"zero":false},"axis":{"values":[0,20,40,60,80],"title":"Time (months)"}},"y":{"field":"s","type":"quantitative","scale":{"domain":[-0.035,1.005],"nice":false,"zero":false},"axis":{"values":[0,0.2,0.4,0.6,0.8,1],"format":".1f","title":"Overall survival"}}},"layer":[
   {"transform":[{"filter":"datum.p=='B1'&&datum.c==0"}],"mark":{"type":"line","interpolate":"step-after","strokeWidth":1.1},"encoding":{"color":{"field":"g","type":"nominal"}}},
   {"transform":[{"filter":"datum.p=='B1'&&datum.c==1"}],"mark":{"type":"point","shape":"M-1,0L1,0M0,-1L0,1","size":25,"strokeWidth":1.1,"filled":false,"opacity":1},"encoding":{"color":{"field":"g","type":"nominal"}}},
   {"data":{"name":"ann"},"transform":[{"filter":"datum.p=='B1'"}],"mark":{"type":"text","align":"left","baseline":"middle","fontSize":11},"encoding":{"text":{"field":"label"}}},
   {"data":{"name":"ann"},"transform":[{"filter":"datum.p=='B1'&&datum.k=='pv'"}],"mark":{"type":"text","align":"right","baseline":"middle","fontSize":11,"fontStyle":"italic","text":"P"}}]},
  {"width":123,"height":119,"title":"LncRNA625","data":{"name":"km"},"encoding":{"x":{"field":"t","type":"quantitative","scale":{"domain":[-1.6,83.6],"nice":false,"zero":false},"axis":{"values":[0,20,40,60,80],"title":"Time (months)"}},"y":{"field":"s","type":"quantitative","scale":{"domain":[-0.035,1.005],"nice":false,"zero":false},"axis":{"values":[0,0.2,0.4,0.6,0.8,1],"format":".1f","title":"Disease free survival"}}},"layer":[
   {"transform":[{"filter":"datum.p=='B2'&&datum.c==0"}],"mark":{"type":"line","interpolate":"step-after","strokeWidth":1.1},"encoding":{"color":{"field":"g","type":"nominal"}}},
   {"transform":[{"filter":"datum.p=='B2'&&datum.c==1"}],"mark":{"type":"point","shape":"M-1,0L1,0M0,-1L0,1","size":25,"strokeWidth":1.1,"filled":false,"opacity":1},"encoding":{"color":{"field":"g","type":"nominal"}}},
   {"data":{"name":"ann"},"transform":[{"filter":"datum.p=='B2'"}],"mark":{"type":"text","align":"left","baseline":"middle","fontSize":11},"encoding":{"text":{"field":"label"}}},
   {"data":{"name":"ann"},"transform":[{"filter":"datum.p=='B2'&&datum.k=='pv'"}],"mark":{"type":"text","align":"right","baseline":"middle","fontSize":11,"fontStyle":"italic","text":"P"}}]}
 ]},
 {"title":{"text":"Patients with stage III","frame":"bounds","offset":7,"dx":20},"spacing":13,"hconcat":[
  {"width":123,"height":119,"title":"LncRNA625","data":{"name":"km"},"encoding":{"x":{"field":"t","type":"quantitative","scale":{"domain":[-1.6,83.6],"nice":false,"zero":false},"axis":{"values":[0,20,40,60,80],"title":"Time (months)"}},"y":{"field":"s","type":"quantitative","scale":{"domain":[-0.035,1.005],"nice":false,"zero":false},"axis":{"values":[0,0.2,0.4,0.6,0.8,1],"format":".1f","title":"Overall survival"}}},"layer":[
   {"transform":[{"filter":"datum.p=='B3'&&datum.c==0"}],"mark":{"type":"line","interpolate":"step-after","strokeWidth":1.1},"encoding":{"color":{"field":"g","type":"nominal"}}},
   {"transform":[{"filter":"datum.p=='B3'&&datum.c==1"}],"mark":{"type":"point","shape":"M-1,0L1,0M0,-1L0,1","size":25,"strokeWidth":1.1,"filled":false,"opacity":1},"encoding":{"color":{"field":"g","type":"nominal"}}},
   {"data":{"name":"ann"},"transform":[{"filter":"datum.p=='B3'"}],"mark":{"type":"text","align":"left","baseline":"middle","fontSize":11},"encoding":{"text":{"field":"label"}}},
   {"data":{"name":"ann"},"transform":[{"filter":"datum.p=='B3'&&datum.k=='pv'"}],"mark":{"type":"text","align":"right","baseline":"middle","fontSize":11,"fontStyle":"italic","text":"P"}}]},
  {"width":123,"height":119,"title":"LncRNA625","data":{"name":"km"},"encoding":{"x":{"field":"t","type":"quantitative","scale":{"domain":[-1.6,83.6],"nice":false,"zero":false},"axis":{"values":[0,20,40,60,80],"title":"Time (months)"}},"y":{"field":"s","type":"quantitative","scale":{"domain":[-0.035,1.005],"nice":false,"zero":false},"axis":{"values":[0,0.2,0.4,0.6,0.8,1],"format":".1f","title":"Disease free survival"}}},"layer":[
   {"transform":[{"filter":"datum.p=='B4'&&datum.c==0"}],"mark":{"type":"line","interpolate":"step-after","strokeWidth":1.1},"encoding":{"color":{"field":"g","type":"nominal"}}},
   {"transform":[{"filter":"datum.p=='B4'&&datum.c==1"}],"mark":{"type":"point","shape":"M-1,0L1,0M0,-1L0,1","size":25,"strokeWidth":1.1,"filled":false,"opacity":1},"encoding":{"color":{"field":"g","type":"nominal"}}},
   {"data":{"name":"ann"},"transform":[{"filter":"datum.p=='B4'"}],"mark":{"type":"text","align":"left","baseline":"middle","fontSize":11},"encoding":{"text":{"field":"label"}}},
   {"data":{"name":"ann"},"transform":[{"filter":"datum.p=='B4'&&datum.k=='pv'"}],"mark":{"type":"text","align":"right","baseline":"middle","fontSize":11,"fontStyle":"italic","text":"P"}}]}
 ]}
 ]}
]},
{"spacing":91,
 "hconcat":[
 {"title":{"text":"b","anchor":"start","frame":"bounds","fontWeight":"bold","fontSize":13,"dx":-7,"offset":7},
  "width":345,"height":262,"view":{"stroke":null},"data":{"name":"bars"},
  "layer":[
   {"mark":{"type":"bar","fill":"#87ceeb","stroke":"black","strokeWidth":1.2},
    "encoding":{
     "y":{"field":"type","type":"nominal","scale":{"domain":["Brain lower grade glioma","Bladder urothelial carcinoma","Lung squamous cell carcinoma","Kidney renal papillary cell carcinoma","Lung adenocarcinoma","Stomach adenocarcinoma","Kidney renal clear cell carcinoma","Prostate adenocarcinoma","Breast invasive carcinoma","Thyroid carcinoma","Head and neck squamous cell carcinoma","Cervical squamous cell carcinoma and endocervical adenocarcinoma","Liver hepatocellular carcinoma","Glioblastoma multiforme","Ovarian serous cystadenocarcinoma"],"paddingInner":0.22,"paddingOuter":0.315,"align":0.065},"axis":{"title":"Caner types in TCGA","labels":false,"ticks":false,"tickSize":0,"domain":true,"domainColor":"black","domainWidth":1.5,"titleFontSize":11,"titlePadding":17}},
     "x":{"field":"v","type":"quantitative","scale":{"domain":[0,2],"nice":false},"axis":{"values":[0,0.5,1,1.5,2],"format":".1f","title":"-log₁₀(P-value)","domain":true,"domainColor":"black","domainWidth":1.5,"tickWidth":1.5,"tickSize":5,"labelFontSize":12,"titleFontSize":12,"labelPadding":7,"titlePadding":6}}}},
   {"mark":{"type":"text","align":"left","baseline":"middle","dx":13,"fontSize":9.3,"font":"Liberation Sans"},
    "encoding":{"y":{"field":"type","type":"nominal"},"x":{"datum":0},"text":{"field":"type"}}},
   {"data":{"name":"thr"},"mark":{"type":"rule","color":"#e8262a","strokeWidth":2,"strokeDash":[7,5]},
    "encoding":{"x":{"field":"thr","type":"quantitative"},"y":{"datum":"Bladder urothelial carcinoma","type":"nominal","bandPosition":1},"y2":{"value":"height"}}},
   {"data":{"name":"thr"},"mark":{"type":"text","align":"center","baseline":"middle","dx":7,"fontSize":11},
    "encoding":{"x":{"field":"thr","type":"quantitative"},"y":{"datum":"Brain lower grade glioma","type":"nominal","bandPosition":1},"text":{"field":"label"}}}
  ]},
 {"title":{"text":"c","anchor":"start","frame":"bounds","fontWeight":"bold","fontSize":13,"offset":-12},"spacing":16,"vconcat":[
  {"width":170,"height":107,"title":{"text":"ASUN","fontSize":9.5,"offset":5},"data":{"name":"km"},"encoding":{"x":{"field":"t","type":"quantitative","scale":{"domain":[-80,1700],"nice":false,"zero":false},"axis":{"values":[0,500,1000,1500],"format":"d","title":"Time (days)"}},"y":{"field":"s","type":"quantitative","scale":{"domain":[-0.04,1.03],"nice":false,"zero":false},"axis":{"values":[0,0.2,0.4,0.6,0.8,1],"format":".1f","title":"Overall survival","titleFontSize":7.5}}},"layer":[
   {"transform":[{"filter":"datum.p=='C1'&&datum.c==0"}],"mark":{"type":"line","interpolate":"step-after","strokeWidth":1.1},"encoding":{"color":{"field":"g","type":"nominal"}}},
   {"transform":[{"filter":"datum.p=='C1'&&datum.c==1"}],"mark":{"type":"point","shape":"M-1,0L1,0M0,-1L0,1","size":25,"strokeWidth":1.1,"filled":false,"opacity":1},"encoding":{"color":{"field":"g","type":"nominal"}}},
   {"data":{"name":"ann"},"transform":[{"filter":"datum.p=='C1'"}],"mark":{"type":"text","align":"left","baseline":"middle","fontSize":10.5},"encoding":{"text":{"field":"label"}}},
   {"data":{"name":"ann"},"transform":[{"filter":"datum.p=='C1'&&datum.k=='pv'"}],"mark":{"type":"text","align":"right","baseline":"middle","fontSize":10.5,"fontStyle":"italic","text":"P"}}]},
  {"width":170,"height":107,"title":{"text":"TMPRSS4","fontSize":9.5,"offset":6},"data":{"name":"km"},"encoding":{"x":{"field":"t","type":"quantitative","scale":{"domain":[-80,1700],"nice":false,"zero":false},"axis":{"values":[0,500,1000,1500],"format":"d","title":"Time (days)"}},"y":{"field":"s","type":"quantitative","scale":{"domain":[-0.04,1.03],"nice":false,"zero":false},"axis":{"values":[0,0.2,0.4,0.6,0.8,1],"format":".1f","title":"Overall survival","titleFontSize":7.5}}},"layer":[
   {"transform":[{"filter":"datum.p=='C2'&&datum.c==0"}],"mark":{"type":"line","interpolate":"step-after","strokeWidth":1.1},"encoding":{"color":{"field":"g","type":"nominal"}}},
   {"transform":[{"filter":"datum.p=='C2'&&datum.c==1"}],"mark":{"type":"point","shape":"M-1,0L1,0M0,-1L0,1","size":25,"strokeWidth":1.1,"filled":false,"opacity":1},"encoding":{"color":{"field":"g","type":"nominal"}}},
   {"data":{"name":"ann"},"transform":[{"filter":"datum.p=='C2'"}],"mark":{"type":"text","align":"left","baseline":"middle","fontSize":10.5},"encoding":{"text":{"field":"label"}}},
   {"data":{"name":"ann"},"transform":[{"filter":"datum.p=='C2'&&datum.k=='pv'"}],"mark":{"type":"text","align":"right","baseline":"middle","fontSize":10.5,"fontStyle":"italic","text":"P"}}]}
 ]}
 ]}
]
}
